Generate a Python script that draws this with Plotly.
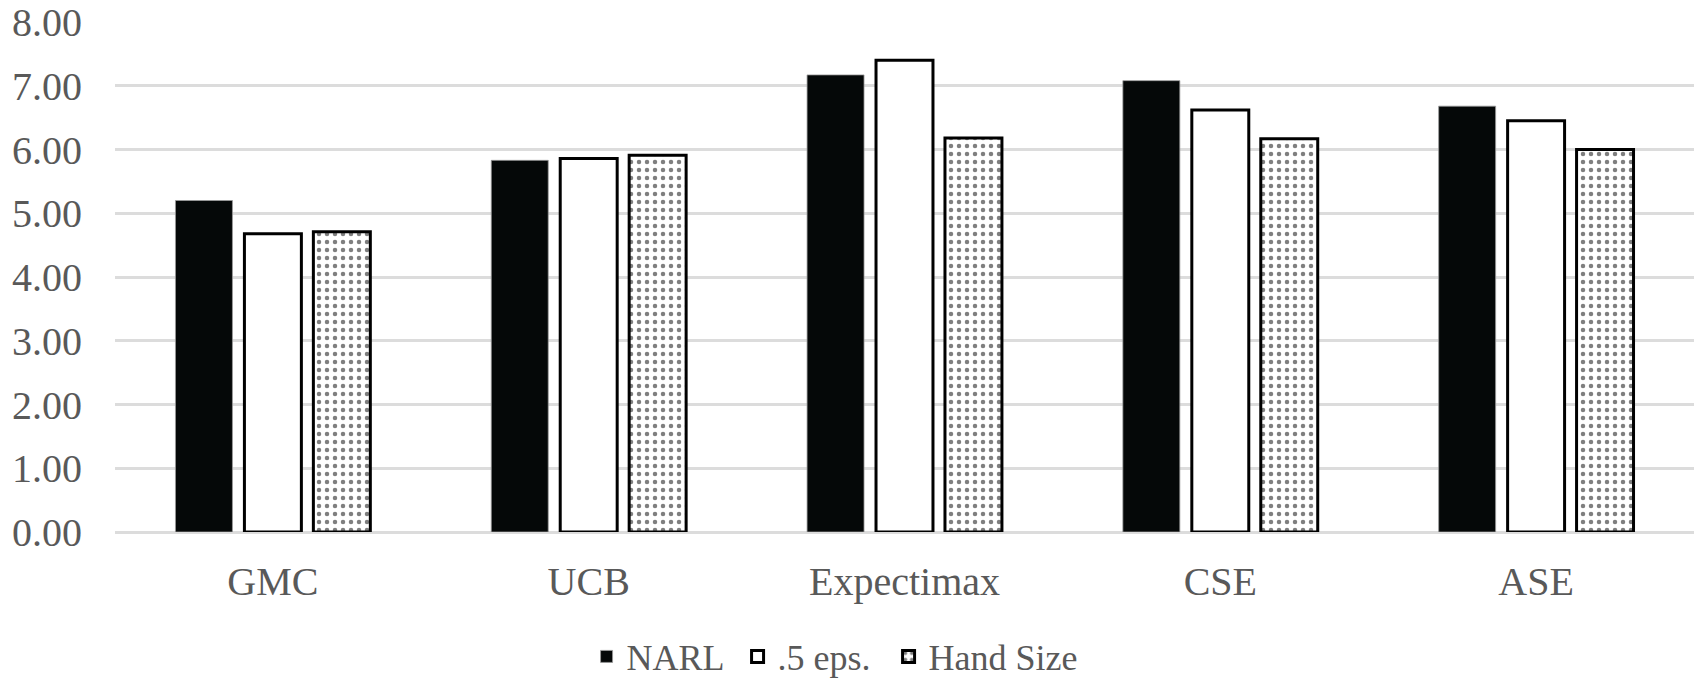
import plotly.graph_objects as go

categories = ["GMC", "UCB", "Expectimax", "CSE", "ASE"]
narl = [5.20, 5.83, 7.17, 7.08, 6.68]
eps5 = [4.68, 5.86, 7.40, 6.62, 6.45]
hand_size = [4.71, 5.91, 6.18, 6.17, 6.00]
series_names = ["NARL", ".5 eps.", "Hand Size"]
y_ticks = [0, 1, 2, 3, 4, 5, 6, 7, 8]

FONT = "Liberation Serif, Times New Roman, serif"
GRAY = "#595959"

fig = go.Figure()
fig.add_trace(go.Bar(
    x=categories, y=narl, name=series_names[0], legendwidth=106,
    marker=dict(color="#050808", line=dict(color="#9a9a9a", width=0.8)),
))
fig.add_trace(go.Bar(
    x=categories, y=eps5, name=series_names[1], legendwidth=106,
    marker=dict(color="#ffffff", line=dict(color="#000000", width=3)),
))
fig.add_trace(go.Bar(
    x=categories, y=hand_size, name=series_names[2],
    marker=dict(
        color="#ffffff",
        line=dict(color="#000000", width=3),
        pattern=dict(shape=".", fgcolor="#000000", bgcolor="#ffffff",
                     size=8, solidity=0.25, fillmode="overlay"),
    ),
))

fig.update_layout(
    width=1698, height=686,
    margin=dict(l=115, r=4, t=22, b=154),
    paper_bgcolor="white", plot_bgcolor="white",
    barmode="group", bargap=0.345, bargroupgap=0.174,
    font=dict(family=FONT, color=GRAY, size=40),
    showlegend=True,
    legend=dict(
        orientation="h", xref="container", yref="container",
        x=0.4915, xanchor="center", y=0.043, yanchor="middle",
        font=dict(family=FONT, size=36, color=GRAY),
        bgcolor="rgba(0,0,0,0)",
    ),
    xaxis=dict(
        showgrid=False, showline=False, zeroline=False, automargin=False,
        ticks="", ticklabelstandoff=22,
        tickfont=dict(family=FONT, size=40, color=GRAY),
    ),
    yaxis=dict(
        range=[0, 8], tickvals=y_ticks, tickformat=".2f", automargin=False,
        showgrid=True, gridcolor="#dcdcdc", gridwidth=2.6,
        zeroline=True, zerolinecolor="#dcdcdc", zerolinewidth=2.6,
        showline=False, ticks="", ticklabelstandoff=32,
        tickfont=dict(family=FONT, size=40, color=GRAY),
    ),
)

fig.write_html(
    "out.html",
    config={"displayModeBar": False},
    post_script="document.body.style.margin='0';document.body.style.overflow='hidden';",
)
